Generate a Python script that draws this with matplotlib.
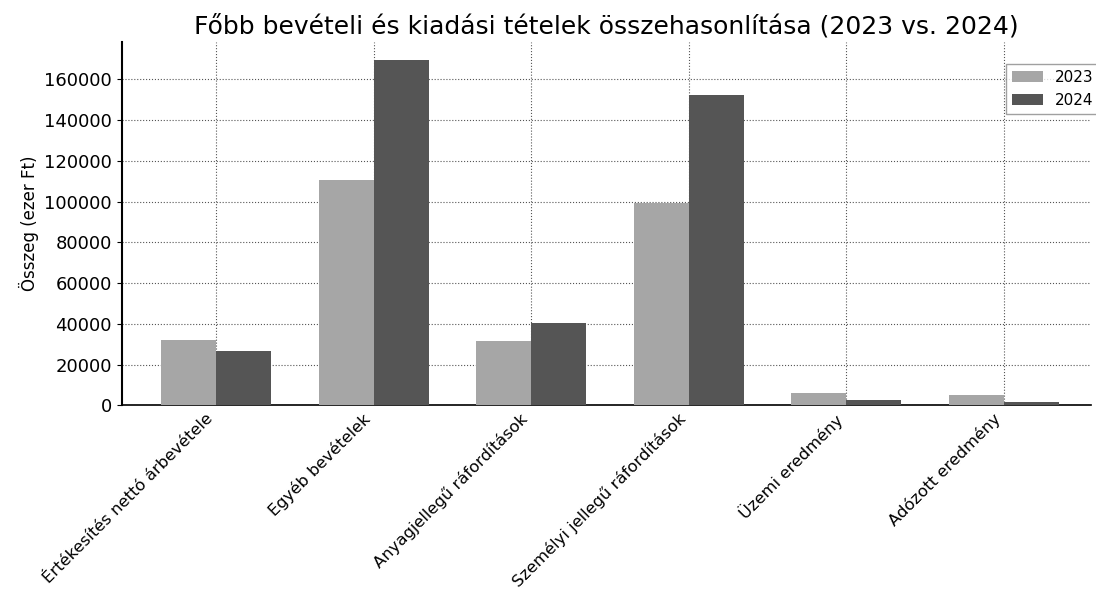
import matplotlib.pyplot as plt
import numpy as np

plt.rcParams['font.family'] = ['DejaVu Sans']

categories = ['Értékesítés nettó árbevétele', 'Egyéb bevételek', 'Anyagjellegű ráfordítások',
              'Személyi jellegű ráfordítások', 'Üzemi eredmény', 'Adózott eredmény']
values_2023 = [32000, 110500, 31500, 99500, 6200, 5000]
values_2024 = [26500, 169500, 40500, 152500, 2500, 1500]
y_ticks = [0, 20000, 40000, 60000, 80000, 100000, 120000, 140000, 160000]

fig, ax = plt.subplots(figsize=(10.96, 5.96), dpi=100)
fig.subplots_adjust(left=0.111, right=0.995, top=0.93, bottom=0.32)

x = np.arange(len(categories))
bar_width = 0.35
ax.bar(x - bar_width / 2, values_2023, width=bar_width, color='#a6a6a6', label='2023', zorder=3)
ax.bar(x + bar_width / 2, values_2024, width=bar_width, color='#555555', label='2024', zorder=3)

ax.set_xlim(-0.6, 5.55)
ax.set_ylim(0, 178500)
ax.set_yticks(y_ticks)
ax.set_xticks(x)
ax.set_xticklabels(categories, rotation=45, ha='right', fontsize=11.8)
ax.tick_params(axis='y', labelsize=13)
ax.tick_params(axis='x', length=0, pad=4)
ax.set_ylabel('Összeg (ezer Ft)', fontsize=12)
ax.set_title('Főbb bevételi és kiadási tételek összehasonlítása (2023 vs. 2024)', fontsize=18)

ax.grid(True, linestyle=':', color='#555555', linewidth=0.8, zorder=0)
ax.spines['top'].set_visible(False)
ax.spines['right'].set_visible(False)
ax.spines['left'].set_linewidth(1.5)
ax.spines['bottom'].set_linewidth(1.2)

ax.legend(loc='upper left', fontsize=11, frameon=True, fancybox=False, edgecolor='#888888',
          bbox_to_anchor=(0.905, 0.96))

plt.savefig('out.png', dpi=100)
